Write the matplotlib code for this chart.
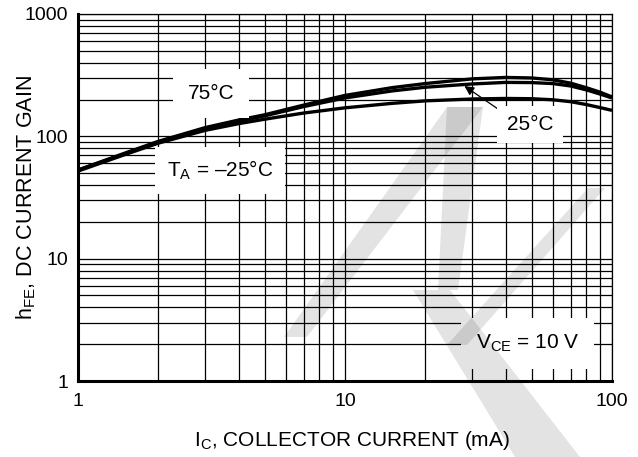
import numpy as np
import matplotlib
matplotlib.use('Agg')
import matplotlib.pyplot as plt
from matplotlib.patches import Polygon
from matplotlib.ticker import LogLocator, FixedLocator, FixedFormatter, NullFormatter

plt.rcParams['font.family'] = ['Liberation Sans', 'DejaVu Sans']
plt.rcParams['mathtext.fontset'] = 'custom'
plt.rcParams['mathtext.rm'] = 'Liberation Sans'

# data
ic = [1, 1.5, 2, 3, 4, 5, 7, 10, 15, 20, 30, 40, 50, 60, 70, 80, 90, 100]
hfe_75 = [53, 73, 91, 118, 136, 150, 180, 216, 250, 270, 295, 303, 300, 290, 272, 250, 230, 210]
hfe_25 = [53, 72, 90, 116, 133, 147, 175, 206, 235, 252, 268, 276, 275, 270, 258, 240, 222, 206]
hfe_m25 = [52, 71, 88, 112, 127, 138, 155, 171, 186, 195, 202, 204, 203, 199, 192, 182, 172, 163]

xticks = [1, 10, 100]
yticks = [1, 10, 100, 1000]

fig = plt.figure(figsize=(6.38, 4.57), dpi=100)
ax = fig.add_axes([78/638, 1-381/457, 534/638, 367/457])
ax.set_facecolor('white')

ax.plot(ic, hfe_75, color='black', lw=2.4, solid_capstyle='butt')
ax.plot(ic, hfe_25, color='black', lw=2.4, solid_capstyle='butt')
ax.plot(ic, hfe_m25, color='black', lw=2.4, solid_capstyle='butt')

ax.set_xscale('log')
ax.set_yscale('log')
ax.set_xlim(1, 100)
ax.set_ylim(1, 1000)

ax.xaxis.set_major_locator(FixedLocator(xticks))
ax.xaxis.set_major_formatter(FixedFormatter([str(v) for v in xticks]))
ax.yaxis.set_major_locator(FixedLocator(yticks))
ax.yaxis.set_major_formatter(FixedFormatter([str(v) for v in yticks]))
ax.xaxis.set_minor_locator(LogLocator(base=10, subs=np.arange(2, 10)))
ax.yaxis.set_minor_locator(LogLocator(base=10, subs=np.arange(2, 10)))
ax.xaxis.set_minor_formatter(NullFormatter())
ax.yaxis.set_minor_formatter(NullFormatter())
ax.tick_params(which='both', length=0, labelsize=14)
ax.tick_params(axis='x', pad=9)
ax.tick_params(axis='y', pad=7)

ax.grid(True, which='both', color='black', lw=0.9)
ax.set_axisbelow(True)
for s in ['left', 'bottom']:
    ax.spines[s].set_linewidth(2.2)
for s in ['top', 'right']:
    ax.spines[s].set_linewidth(0.9)

ax.set_xlabel(r'I$_\mathregular{C}$, COLLECTOR CURRENT (mA)', fontsize=15)
ax.set_ylabel(r'h$_\mathregular{FE}$, DC CURRENT GAIN', fontsize=15.5)
ax.xaxis.set_label_coords(0.513, -0.13)
ax.yaxis.set_label_coords(-0.075, 0.5)

# labels with white boxes
ax.text(3.15, 224, '75\u00b0C', fontsize=15, ha='center', va='center',
        bbox=dict(boxstyle='square,pad=0.7', facecolor='white', edgecolor='none'), zorder=4)
ax.text(3.4, 52.8, r'T$_\mathregular{A}$ = ' + '\u201325\u00b0C', fontsize=15, ha='center', va='center',
        bbox=dict(boxstyle='square,pad=0.55', facecolor='white', edgecolor='none'), zorder=4)
ax.annotate('25\u00b0C', xy=(28, 258), xytext=(49.3, 125), fontsize=15, ha='center', va='center',
            bbox=dict(boxstyle='square,pad=0.45', facecolor='white', edgecolor='none'),
            arrowprops=dict(arrowstyle='-|>', color='black', lw=0.9, mutation_scale=14,
                            relpos=(0, 1), patchA=None, shrinkA=0, shrinkB=0), zorder=4)
ax.text(48.4, 2.04, r'V$_\mathregular{CE}$ = 10 V', fontsize=15, ha='center', va='center',
        bbox=dict(boxstyle='square,pad=0.7', facecolor='white', edgecolor='none'), zorder=4)

# grey watermark on top (pixel corners, y down)
marks = [
    [(284, 337), (307, 337), (483, 107), (447, 107)],
    [(447, 107), (483, 107), (458, 290), (438, 290)],
    [(413, 290), (450, 290), (580, 457), (515, 457)],
    [(447, 345), (467, 345), (605, 188), (588, 188)],
]
for m in marks:
    pts = [(px/638, 1-py/457) for px, py in m]
    fig.add_artist(Polygon(pts, closed=True, transform=fig.transFigure,
                           facecolor='black', edgecolor='none', alpha=0.11, zorder=10))

plt.savefig('out.png', dpi=100)
